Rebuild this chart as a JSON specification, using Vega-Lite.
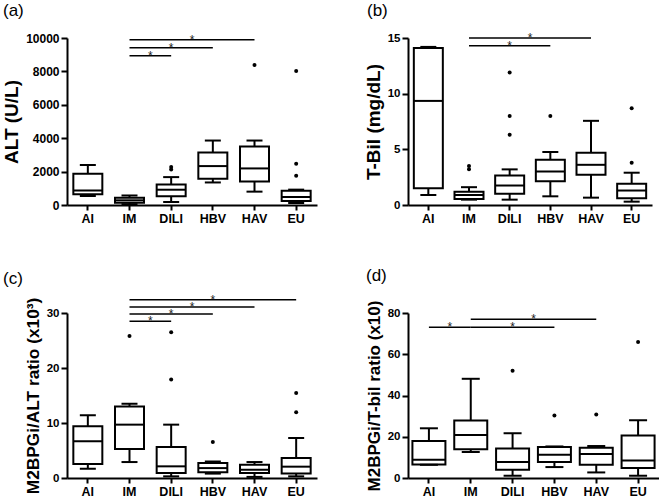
{
  "$schema": "https://vega.github.io/schema/vega-lite/v6.json",
  "padding": {"left": 2, "top": 2, "right": 0, "bottom": 0},
  "datasets": {
    "boxes": [
      {"panel": "a", "group": "AI", "min": 540, "q1": 650, "median": 870, "q3": 1870, "max": 2400},
      {"panel": "a", "group": "IM", "min": 50, "q1": 130, "median": 280, "q3": 430, "max": 570},
      {"panel": "a", "group": "DILI", "min": 180, "q1": 520, "median": 915, "q3": 1235, "max": 1670},
      {"panel": "a", "group": "HBV", "min": 1350, "q1": 1570, "median": 2330, "q3": 3150, "max": 3860},
      {"panel": "a", "group": "HAV", "min": 800, "q1": 1410, "median": 2190, "q3": 3510, "max": 3860},
      {"panel": "a", "group": "EU", "min": 120, "q1": 240, "median": 480, "q3": 860, "max": 920},
      {"panel": "b", "group": "AI", "min": 0.9, "q1": 1.5, "median": 9.35, "q3": 14.1, "max": 14.2},
      {"panel": "b", "group": "IM", "min": 0.48, "q1": 0.54, "median": 0.9, "q3": 1.2, "max": 1.6},
      {"panel": "b", "group": "DILI", "min": 0.48, "q1": 1.0, "median": 1.75, "q3": 2.65, "max": 3.2},
      {"panel": "b", "group": "HBV", "min": 0.78, "q1": 2.14, "median": 3.0, "q3": 4.07, "max": 4.76},
      {"panel": "b", "group": "HAV", "min": 0.66, "q1": 2.71, "median": 3.61, "q3": 4.7, "max": 7.56},
      {"panel": "b", "group": "EU", "min": 0.3, "q1": 0.6, "median": 1.3, "q3": 1.9, "max": 2.9},
      {"panel": "c", "group": "AI", "min": 1.7, "q1": 2.55, "median": 6.67, "q3": 9.4, "max": 11.4},
      {"panel": "c", "group": "IM", "min": 2.9, "q1": 5.27, "median": 9.7, "q3": 13.0, "max": 13.5},
      {"panel": "c", "group": "DILI", "min": 0.3, "q1": 0.9, "median": 2.12, "q3": 5.64, "max": 9.7},
      {"panel": "c", "group": "HBV", "min": 0.8, "q1": 1.03, "median": 1.8, "q3": 2.73, "max": 3.0},
      {"panel": "c", "group": "HAV", "min": 0.2, "q1": 0.9, "median": 1.5, "q3": 2.42, "max": 2.9},
      {"panel": "c", "group": "EU", "min": 0.3, "q1": 0.8, "median": 2.06, "q3": 3.64, "max": 7.27},
      {"panel": "d", "group": "AI", "min": 6.4, "q1": 6.5, "median": 8.9, "q3": 17.9, "max": 24.1},
      {"panel": "d", "group": "IM", "min": 12.6, "q1": 14.0, "median": 20.8, "q3": 27.9, "max": 48.1},
      {"panel": "d", "group": "DILI", "min": 1.1, "q1": 4.0, "median": 7.7, "q3": 14.3, "max": 21.7},
      {"panel": "d", "group": "HBV", "min": 5.3, "q1": 7.7, "median": 11.3, "q3": 15.0, "max": 15.3},
      {"panel": "d", "group": "HAV", "min": 2.7, "q1": 6.4, "median": 11.6, "q3": 14.7, "max": 15.5},
      {"panel": "d", "group": "EU", "min": 1.1, "q1": 4.8, "median": 8.5, "q3": 20.6, "max": 28.0}
    ],
    "outliers": [
      {"panel": "a", "group": "DILI", "value": 2130},
      {"panel": "a", "group": "DILI", "value": 2270},
      {"panel": "a", "group": "HAV", "value": 8390},
      {"panel": "a", "group": "EU", "value": 8020},
      {"panel": "a", "group": "EU", "value": 2470},
      {"panel": "a", "group": "EU", "value": 1750},
      {"panel": "b", "group": "IM", "value": 3.2},
      {"panel": "b", "group": "IM", "value": 3.5},
      {"panel": "b", "group": "DILI", "value": 11.9},
      {"panel": "b", "group": "DILI", "value": 8.0},
      {"panel": "b", "group": "DILI", "value": 6.3},
      {"panel": "b", "group": "HBV", "value": 8.0},
      {"panel": "b", "group": "EU", "value": 8.7},
      {"panel": "b", "group": "EU", "value": 3.8},
      {"panel": "c", "group": "IM", "value": 25.8},
      {"panel": "c", "group": "DILI", "value": 26.5},
      {"panel": "c", "group": "DILI", "value": 17.9},
      {"panel": "c", "group": "HBV", "value": 6.55},
      {"panel": "c", "group": "EU", "value": 15.45},
      {"panel": "c", "group": "EU", "value": 11.94},
      {"panel": "d", "group": "DILI", "value": 52.0},
      {"panel": "d", "group": "HBV", "value": 30.3},
      {"panel": "d", "group": "HAV", "value": 30.8},
      {"panel": "d", "group": "EU", "value": 65.9}
    ],
    "sig": [
      {"panel": "a", "group": "IM", "group2": "DILI", "y": 8940, "star": "IM", "edge": true},
      {"panel": "a", "group": "IM", "group2": "HBV", "y": 9420, "star": "DILI", "edge": false},
      {"panel": "a", "group": "IM", "group2": "HAV", "y": 9900, "star": "DILI", "edge": true},
      {"panel": "b", "group": "IM", "group2": "HBV", "y": 14.3, "star": "DILI", "edge": false},
      {"panel": "b", "group": "IM", "group2": "HAV", "y": 15.0, "star": "DILI", "edge": true},
      {"panel": "c", "group": "IM", "group2": "DILI", "y": 28.5, "star": "IM", "edge": true},
      {"panel": "c", "group": "IM", "group2": "HBV", "y": 29.8, "star": "DILI", "edge": false},
      {"panel": "c", "group": "IM", "group2": "HAV", "y": 31.1, "star": "DILI", "edge": true},
      {"panel": "c", "group": "IM", "group2": "EU", "y": 32.4, "star": "HBV", "edge": false},
      {"panel": "d", "group": "AI", "group2": "IM", "y": 73.1, "star": "AI", "edge": true},
      {"panel": "d", "group": "IM", "group2": "HBV", "y": 73.1, "star": "DILI", "edge": false},
      {"panel": "d", "group": "IM", "group2": "HAV", "y": 77.0, "star": "DILI", "edge": true}
    ]
  },
  "columns": 2,
  "spacing": {"row": 108, "column": 91},
  "bounds": "flush",
  "concat": [
    {
      "width": 250, "height": 167,
      "title": {"text": "(a)", "dx": -64, "dy": -8},
      "encoding": {"x": {"field": "group", "type": "nominal", "scale": {"domain": ["AI", "IM", "DILI", "HBV", "HAV", "EU"], "paddingInner": 0, "paddingOuter": 0}, "axis": {"title": null, "labelFontSize": 12.5, "labelFontWeight": "bold", "labelAngle": 0}}},
      "layer": [
        {"data": {"name": "boxes"}, "transform": [{"filter": "datum.panel == 'a'"}], "mark": {"type": "rule", "strokeWidth": 2, "color": "black"},
         "encoding": {"y": {"field": "min", "type": "quantitative", "scale": {"domain": [0, 10000], "nice": false}, "axis": {"values": [0, 2000, 4000, 6000, 8000, 10000], "format": "d", "title": "ALT (U/L)", "titleFontSize": 19, "labelFontSize": 12, "labelFontWeight": "bold"}}, "y2": {"field": "max"}}},
        {"data": {"name": "boxes"}, "transform": [{"filter": "datum.panel == 'a'"}], "mark": {"type": "bar", "width": 29, "fill": "white", "stroke": "black", "strokeWidth": 2},
         "encoding": {"y": {"field": "q1", "type": "quantitative", "scale": {"domain": [0, 10000], "nice": false}, "axis": {"values": [0, 2000, 4000, 6000, 8000, 10000], "format": "d", "title": "ALT (U/L)", "titleFontSize": 19, "labelFontSize": 12, "labelFontWeight": "bold"}}, "y2": {"field": "q3"}}},
        {"data": {"name": "boxes"}, "transform": [{"filter": "datum.panel == 'a'"}], "mark": {"type": "tick", "size": 29, "thickness": 2, "color": "black", "opacity": 1},
         "encoding": {"y": {"field": "median", "type": "quantitative", "scale": {"domain": [0, 10000], "nice": false}, "axis": {"values": [0, 2000, 4000, 6000, 8000, 10000], "format": "d", "title": "ALT (U/L)", "titleFontSize": 19, "labelFontSize": 12, "labelFontWeight": "bold"}}}},
        {"data": {"name": "boxes"}, "transform": [{"filter": "datum.panel == 'a'"}], "mark": {"type": "tick", "size": 16, "thickness": 2, "color": "black", "opacity": 1},
         "encoding": {"y": {"field": "min", "type": "quantitative", "scale": {"domain": [0, 10000], "nice": false}, "axis": {"values": [0, 2000, 4000, 6000, 8000, 10000], "format": "d", "title": "ALT (U/L)", "titleFontSize": 19, "labelFontSize": 12, "labelFontWeight": "bold"}}}},
        {"data": {"name": "boxes"}, "transform": [{"filter": "datum.panel == 'a'"}], "mark": {"type": "tick", "size": 16, "thickness": 2, "color": "black", "opacity": 1},
         "encoding": {"y": {"field": "max", "type": "quantitative", "scale": {"domain": [0, 10000], "nice": false}, "axis": {"values": [0, 2000, 4000, 6000, 8000, 10000], "format": "d", "title": "ALT (U/L)", "titleFontSize": 19, "labelFontSize": 12, "labelFontWeight": "bold"}}}},
        {"data": {"name": "outliers"}, "transform": [{"filter": "datum.panel == 'a'"}], "mark": {"type": "circle", "size": 16, "color": "black", "opacity": 1},
         "encoding": {"y": {"field": "value", "type": "quantitative", "scale": {"domain": [0, 10000], "nice": false}, "axis": {"values": [0, 2000, 4000, 6000, 8000, 10000], "format": "d", "title": "ALT (U/L)", "titleFontSize": 19, "labelFontSize": 12, "labelFontWeight": "bold"}}}},
        {"data": {"name": "sig"}, "transform": [{"filter": "datum.panel == 'a'"}], "mark": {"type": "rule", "strokeWidth": 1.5, "color": "black"},
         "encoding": {"x2": {"field": "group2"}, "y": {"field": "y", "type": "quantitative", "scale": {"domain": [0, 10000], "nice": false}, "axis": {"values": [0, 2000, 4000, 6000, 8000, 10000], "format": "d", "title": "ALT (U/L)", "titleFontSize": 19, "labelFontSize": 12, "labelFontWeight": "bold"}}}},
        {"data": {"name": "sig"}, "transform": [{"filter": "datum.panel == 'a' && !datum.edge"}], "mark": {"type": "text", "text": "*", "fontSize": 12, "color": "#222", "baseline": "alphabetic", "dy": 4},
         "encoding": {"x": {"field": "star", "type": "nominal", "scale": {"domain": ["AI", "IM", "DILI", "HBV", "HAV", "EU"], "paddingInner": 0, "paddingOuter": 0}, "axis": {"title": null, "labelFontSize": 12.5, "labelFontWeight": "bold", "labelAngle": 0}}, "y": {"field": "y", "type": "quantitative", "scale": {"domain": [0, 10000], "nice": false}, "axis": {"values": [0, 2000, 4000, 6000, 8000, 10000], "format": "d", "title": "ALT (U/L)", "titleFontSize": 19, "labelFontSize": 12, "labelFontWeight": "bold"}}}},
        {"data": {"name": "sig"}, "transform": [{"filter": "datum.panel == 'a' && datum.edge"}], "mark": {"type": "text", "text": "*", "fontSize": 12, "color": "#222", "baseline": "alphabetic", "dy": 4},
         "encoding": {"x": {"field": "star", "type": "nominal", "bandPosition": 1, "scale": {"domain": ["AI", "IM", "DILI", "HBV", "HAV", "EU"], "paddingInner": 0, "paddingOuter": 0}, "axis": {"title": null, "labelFontSize": 12.5, "labelFontWeight": "bold", "labelAngle": 0}}, "y": {"field": "y", "type": "quantitative", "scale": {"domain": [0, 10000], "nice": false}, "axis": {"values": [0, 2000, 4000, 6000, 8000, 10000], "format": "d", "title": "ALT (U/L)", "titleFontSize": 19, "labelFontSize": 12, "labelFontWeight": "bold"}}}}
      ]
    },
    {
      "width": 244, "height": 167,
      "title": {"text": "(b)", "dx": -41, "dy": -8},
      "encoding": {"x": {"field": "group", "type": "nominal", "scale": {"domain": ["AI", "IM", "DILI", "HBV", "HAV", "EU"], "paddingInner": 0, "paddingOuter": 0}, "axis": {"title": null, "labelFontSize": 12.5, "labelFontWeight": "bold", "labelAngle": 0}}},
      "layer": [
        {"data": {"name": "boxes"}, "transform": [{"filter": "datum.panel == 'b'"}], "mark": {"type": "rule", "strokeWidth": 2, "color": "black"},
         "encoding": {"y": {"field": "min", "type": "quantitative", "scale": {"domain": [0, 15], "nice": false}, "axis": {"values": [0, 5, 10, 15], "title": "T-Bil (mg/dL)", "titleFontSize": 19, "labelFontSize": 11.5, "labelFontWeight": "bold"}}, "y2": {"field": "max"}}},
        {"data": {"name": "boxes"}, "transform": [{"filter": "datum.panel == 'b'"}], "mark": {"type": "bar", "width": 29, "fill": "white", "stroke": "black", "strokeWidth": 2},
         "encoding": {"y": {"field": "q1", "type": "quantitative", "scale": {"domain": [0, 15], "nice": false}, "axis": {"values": [0, 5, 10, 15], "title": "T-Bil (mg/dL)", "titleFontSize": 19, "labelFontSize": 11.5, "labelFontWeight": "bold"}}, "y2": {"field": "q3"}}},
        {"data": {"name": "boxes"}, "transform": [{"filter": "datum.panel == 'b'"}], "mark": {"type": "tick", "size": 29, "thickness": 2, "color": "black", "opacity": 1},
         "encoding": {"y": {"field": "median", "type": "quantitative", "scale": {"domain": [0, 15], "nice": false}, "axis": {"values": [0, 5, 10, 15], "title": "T-Bil (mg/dL)", "titleFontSize": 19, "labelFontSize": 11.5, "labelFontWeight": "bold"}}}},
        {"data": {"name": "boxes"}, "transform": [{"filter": "datum.panel == 'b'"}], "mark": {"type": "tick", "size": 16, "thickness": 2, "color": "black", "opacity": 1},
         "encoding": {"y": {"field": "min", "type": "quantitative", "scale": {"domain": [0, 15], "nice": false}, "axis": {"values": [0, 5, 10, 15], "title": "T-Bil (mg/dL)", "titleFontSize": 19, "labelFontSize": 11.5, "labelFontWeight": "bold"}}}},
        {"data": {"name": "boxes"}, "transform": [{"filter": "datum.panel == 'b'"}], "mark": {"type": "tick", "size": 16, "thickness": 2, "color": "black", "opacity": 1},
         "encoding": {"y": {"field": "max", "type": "quantitative", "scale": {"domain": [0, 15], "nice": false}, "axis": {"values": [0, 5, 10, 15], "title": "T-Bil (mg/dL)", "titleFontSize": 19, "labelFontSize": 11.5, "labelFontWeight": "bold"}}}},
        {"data": {"name": "outliers"}, "transform": [{"filter": "datum.panel == 'b'"}], "mark": {"type": "circle", "size": 16, "color": "black", "opacity": 1},
         "encoding": {"y": {"field": "value", "type": "quantitative", "scale": {"domain": [0, 15], "nice": false}, "axis": {"values": [0, 5, 10, 15], "title": "T-Bil (mg/dL)", "titleFontSize": 19, "labelFontSize": 11.5, "labelFontWeight": "bold"}}}},
        {"data": {"name": "sig"}, "transform": [{"filter": "datum.panel == 'b'"}], "mark": {"type": "rule", "strokeWidth": 1.5, "color": "black"},
         "encoding": {"x2": {"field": "group2"}, "y": {"field": "y", "type": "quantitative", "scale": {"domain": [0, 15], "nice": false}, "axis": {"values": [0, 5, 10, 15], "title": "T-Bil (mg/dL)", "titleFontSize": 19, "labelFontSize": 11.5, "labelFontWeight": "bold"}}}},
        {"data": {"name": "sig"}, "transform": [{"filter": "datum.panel == 'b' && !datum.edge"}], "mark": {"type": "text", "text": "*", "fontSize": 12, "color": "#222", "baseline": "alphabetic", "dy": 4},
         "encoding": {"x": {"field": "star", "type": "nominal", "scale": {"domain": ["AI", "IM", "DILI", "HBV", "HAV", "EU"], "paddingInner": 0, "paddingOuter": 0}, "axis": {"title": null, "labelFontSize": 12.5, "labelFontWeight": "bold", "labelAngle": 0}}, "y": {"field": "y", "type": "quantitative", "scale": {"domain": [0, 15], "nice": false}, "axis": {"values": [0, 5, 10, 15], "title": "T-Bil (mg/dL)", "titleFontSize": 19, "labelFontSize": 11.5, "labelFontWeight": "bold"}}}},
        {"data": {"name": "sig"}, "transform": [{"filter": "datum.panel == 'b' && datum.edge"}], "mark": {"type": "text", "text": "*", "fontSize": 12, "color": "#222", "baseline": "alphabetic", "dy": 4},
         "encoding": {"x": {"field": "star", "type": "nominal", "bandPosition": 1, "scale": {"domain": ["AI", "IM", "DILI", "HBV", "HAV", "EU"], "paddingInner": 0, "paddingOuter": 0}, "axis": {"title": null, "labelFontSize": 12.5, "labelFontWeight": "bold", "labelAngle": 0}}, "y": {"field": "y", "type": "quantitative", "scale": {"domain": [0, 15], "nice": false}, "axis": {"values": [0, 5, 10, 15], "title": "T-Bil (mg/dL)", "titleFontSize": 19, "labelFontSize": 11.5, "labelFontWeight": "bold"}}}}
      ]
    },
    {
      "width": 250, "height": 165,
      "title": {"text": "(c)", "dx": -64, "dy": -2},
      "encoding": {"x": {"field": "group", "type": "nominal", "scale": {"domain": ["AI", "IM", "DILI", "HBV", "HAV", "EU"], "paddingInner": 0, "paddingOuter": 0}, "axis": {"title": null, "labelFontSize": 12.5, "labelFontWeight": "bold", "labelAngle": 0}}},
      "layer": [
        {"data": {"name": "boxes"}, "transform": [{"filter": "datum.panel == 'c'"}], "mark": {"type": "rule", "strokeWidth": 2, "color": "black"},
         "encoding": {"y": {"field": "min", "type": "quantitative", "scale": {"domain": [0, 30], "nice": false}, "axis": {"values": [0, 10, 20, 30], "title": "M2BPGi/ALT ratio (x10³)", "titleFontSize": 17.3, "labelFontSize": 11.5, "labelFontWeight": "bold"}}, "y2": {"field": "max"}}},
        {"data": {"name": "boxes"}, "transform": [{"filter": "datum.panel == 'c'"}], "mark": {"type": "bar", "width": 29, "fill": "white", "stroke": "black", "strokeWidth": 2},
         "encoding": {"y": {"field": "q1", "type": "quantitative", "scale": {"domain": [0, 30], "nice": false}, "axis": {"values": [0, 10, 20, 30], "title": "M2BPGi/ALT ratio (x10³)", "titleFontSize": 17.3, "labelFontSize": 11.5, "labelFontWeight": "bold"}}, "y2": {"field": "q3"}}},
        {"data": {"name": "boxes"}, "transform": [{"filter": "datum.panel == 'c'"}], "mark": {"type": "tick", "size": 29, "thickness": 2, "color": "black", "opacity": 1},
         "encoding": {"y": {"field": "median", "type": "quantitative", "scale": {"domain": [0, 30], "nice": false}, "axis": {"values": [0, 10, 20, 30], "title": "M2BPGi/ALT ratio (x10³)", "titleFontSize": 17.3, "labelFontSize": 11.5, "labelFontWeight": "bold"}}}},
        {"data": {"name": "boxes"}, "transform": [{"filter": "datum.panel == 'c'"}], "mark": {"type": "tick", "size": 16, "thickness": 2, "color": "black", "opacity": 1},
         "encoding": {"y": {"field": "min", "type": "quantitative", "scale": {"domain": [0, 30], "nice": false}, "axis": {"values": [0, 10, 20, 30], "title": "M2BPGi/ALT ratio (x10³)", "titleFontSize": 17.3, "labelFontSize": 11.5, "labelFontWeight": "bold"}}}},
        {"data": {"name": "boxes"}, "transform": [{"filter": "datum.panel == 'c'"}], "mark": {"type": "tick", "size": 16, "thickness": 2, "color": "black", "opacity": 1},
         "encoding": {"y": {"field": "max", "type": "quantitative", "scale": {"domain": [0, 30], "nice": false}, "axis": {"values": [0, 10, 20, 30], "title": "M2BPGi/ALT ratio (x10³)", "titleFontSize": 17.3, "labelFontSize": 11.5, "labelFontWeight": "bold"}}}},
        {"data": {"name": "outliers"}, "transform": [{"filter": "datum.panel == 'c'"}], "mark": {"type": "circle", "size": 16, "color": "black", "opacity": 1},
         "encoding": {"y": {"field": "value", "type": "quantitative", "scale": {"domain": [0, 30], "nice": false}, "axis": {"values": [0, 10, 20, 30], "title": "M2BPGi/ALT ratio (x10³)", "titleFontSize": 17.3, "labelFontSize": 11.5, "labelFontWeight": "bold"}}}},
        {"data": {"name": "sig"}, "transform": [{"filter": "datum.panel == 'c'"}], "mark": {"type": "rule", "strokeWidth": 1.5, "color": "black"},
         "encoding": {"x2": {"field": "group2"}, "y": {"field": "y", "type": "quantitative", "scale": {"domain": [0, 30], "nice": false}, "axis": {"values": [0, 10, 20, 30], "title": "M2BPGi/ALT ratio (x10³)", "titleFontSize": 17.3, "labelFontSize": 11.5, "labelFontWeight": "bold"}}}},
        {"data": {"name": "sig"}, "transform": [{"filter": "datum.panel == 'c' && !datum.edge"}], "mark": {"type": "text", "text": "*", "fontSize": 12, "color": "#222", "baseline": "alphabetic", "dy": 4},
         "encoding": {"x": {"field": "star", "type": "nominal", "scale": {"domain": ["AI", "IM", "DILI", "HBV", "HAV", "EU"], "paddingInner": 0, "paddingOuter": 0}, "axis": {"title": null, "labelFontSize": 12.5, "labelFontWeight": "bold", "labelAngle": 0}}, "y": {"field": "y", "type": "quantitative", "scale": {"domain": [0, 30], "nice": false}, "axis": {"values": [0, 10, 20, 30], "title": "M2BPGi/ALT ratio (x10³)", "titleFontSize": 17.3, "labelFontSize": 11.5, "labelFontWeight": "bold"}}}},
        {"data": {"name": "sig"}, "transform": [{"filter": "datum.panel == 'c' && datum.edge"}], "mark": {"type": "text", "text": "*", "fontSize": 12, "color": "#222", "baseline": "alphabetic", "dy": 4},
         "encoding": {"x": {"field": "star", "type": "nominal", "bandPosition": 1, "scale": {"domain": ["AI", "IM", "DILI", "HBV", "HAV", "EU"], "paddingInner": 0, "paddingOuter": 0}, "axis": {"title": null, "labelFontSize": 12.5, "labelFontWeight": "bold", "labelAngle": 0}}, "y": {"field": "y", "type": "quantitative", "scale": {"domain": [0, 30], "nice": false}, "axis": {"values": [0, 10, 20, 30], "title": "M2BPGi/ALT ratio (x10³)", "titleFontSize": 17.3, "labelFontSize": 11.5, "labelFontWeight": "bold"}}}}
      ]
    },
    {
      "width": 251, "height": 165,
      "title": {"text": "(d)", "dx": -42, "dy": -11},
      "encoding": {"x": {"field": "group", "type": "nominal", "scale": {"domain": ["AI", "IM", "DILI", "HBV", "HAV", "EU"], "paddingInner": 0, "paddingOuter": 0}, "axis": {"title": null, "labelFontSize": 12.5, "labelFontWeight": "bold", "labelAngle": 0}}},
      "layer": [
        {"data": {"name": "boxes"}, "transform": [{"filter": "datum.panel == 'd'"}], "mark": {"type": "rule", "strokeWidth": 2, "color": "black"},
         "encoding": {"y": {"field": "min", "type": "quantitative", "scale": {"domain": [0, 80], "nice": false}, "axis": {"values": [0, 20, 40, 60, 80], "title": "M2BPGi/T-bil ratio (x10)", "titleFontSize": 17, "labelFontSize": 11.5, "labelFontWeight": "bold"}}, "y2": {"field": "max"}}},
        {"data": {"name": "boxes"}, "transform": [{"filter": "datum.panel == 'd'"}], "mark": {"type": "bar", "width": 33, "fill": "white", "stroke": "black", "strokeWidth": 2},
         "encoding": {"y": {"field": "q1", "type": "quantitative", "scale": {"domain": [0, 80], "nice": false}, "axis": {"values": [0, 20, 40, 60, 80], "title": "M2BPGi/T-bil ratio (x10)", "titleFontSize": 17, "labelFontSize": 11.5, "labelFontWeight": "bold"}}, "y2": {"field": "q3"}}},
        {"data": {"name": "boxes"}, "transform": [{"filter": "datum.panel == 'd'"}], "mark": {"type": "tick", "size": 33, "thickness": 2, "color": "black", "opacity": 1},
         "encoding": {"y": {"field": "median", "type": "quantitative", "scale": {"domain": [0, 80], "nice": false}, "axis": {"values": [0, 20, 40, 60, 80], "title": "M2BPGi/T-bil ratio (x10)", "titleFontSize": 17, "labelFontSize": 11.5, "labelFontWeight": "bold"}}}},
        {"data": {"name": "boxes"}, "transform": [{"filter": "datum.panel == 'd'"}], "mark": {"type": "tick", "size": 18, "thickness": 2, "color": "black", "opacity": 1},
         "encoding": {"y": {"field": "min", "type": "quantitative", "scale": {"domain": [0, 80], "nice": false}, "axis": {"values": [0, 20, 40, 60, 80], "title": "M2BPGi/T-bil ratio (x10)", "titleFontSize": 17, "labelFontSize": 11.5, "labelFontWeight": "bold"}}}},
        {"data": {"name": "boxes"}, "transform": [{"filter": "datum.panel == 'd'"}], "mark": {"type": "tick", "size": 18, "thickness": 2, "color": "black", "opacity": 1},
         "encoding": {"y": {"field": "max", "type": "quantitative", "scale": {"domain": [0, 80], "nice": false}, "axis": {"values": [0, 20, 40, 60, 80], "title": "M2BPGi/T-bil ratio (x10)", "titleFontSize": 17, "labelFontSize": 11.5, "labelFontWeight": "bold"}}}},
        {"data": {"name": "outliers"}, "transform": [{"filter": "datum.panel == 'd'"}], "mark": {"type": "circle", "size": 16, "color": "black", "opacity": 1},
         "encoding": {"y": {"field": "value", "type": "quantitative", "scale": {"domain": [0, 80], "nice": false}, "axis": {"values": [0, 20, 40, 60, 80], "title": "M2BPGi/T-bil ratio (x10)", "titleFontSize": 17, "labelFontSize": 11.5, "labelFontWeight": "bold"}}}},
        {"data": {"name": "sig"}, "transform": [{"filter": "datum.panel == 'd'"}], "mark": {"type": "rule", "strokeWidth": 1.5, "color": "black"},
         "encoding": {"x2": {"field": "group2"}, "y": {"field": "y", "type": "quantitative", "scale": {"domain": [0, 80], "nice": false}, "axis": {"values": [0, 20, 40, 60, 80], "title": "M2BPGi/T-bil ratio (x10)", "titleFontSize": 17, "labelFontSize": 11.5, "labelFontWeight": "bold"}}}},
        {"data": {"name": "sig"}, "transform": [{"filter": "datum.panel == 'd' && !datum.edge"}], "mark": {"type": "text", "text": "*", "fontSize": 12, "color": "#222", "baseline": "alphabetic", "dy": 4},
         "encoding": {"x": {"field": "star", "type": "nominal", "scale": {"domain": ["AI", "IM", "DILI", "HBV", "HAV", "EU"], "paddingInner": 0, "paddingOuter": 0}, "axis": {"title": null, "labelFontSize": 12.5, "labelFontWeight": "bold", "labelAngle": 0}}, "y": {"field": "y", "type": "quantitative", "scale": {"domain": [0, 80], "nice": false}, "axis": {"values": [0, 20, 40, 60, 80], "title": "M2BPGi/T-bil ratio (x10)", "titleFontSize": 17, "labelFontSize": 11.5, "labelFontWeight": "bold"}}}},
        {"data": {"name": "sig"}, "transform": [{"filter": "datum.panel == 'd' && datum.edge"}], "mark": {"type": "text", "text": "*", "fontSize": 12, "color": "#222", "baseline": "alphabetic", "dy": 4},
         "encoding": {"x": {"field": "star", "type": "nominal", "bandPosition": 1, "scale": {"domain": ["AI", "IM", "DILI", "HBV", "HAV", "EU"], "paddingInner": 0, "paddingOuter": 0}, "axis": {"title": null, "labelFontSize": 12.5, "labelFontWeight": "bold", "labelAngle": 0}}, "y": {"field": "y", "type": "quantitative", "scale": {"domain": [0, 80], "nice": false}, "axis": {"values": [0, 20, 40, 60, 80], "title": "M2BPGi/T-bil ratio (x10)", "titleFontSize": 17, "labelFontSize": 11.5, "labelFontWeight": "bold"}}}}
      ]
    }
  ],
  "config": {
    "view": {"stroke": null},
    "font": "Liberation Sans",
    "axis": {"domainColor": "black", "domainWidth": 2, "tickColor": "black", "tickWidth": 2, "tickSize": 6, "labelColor": "black", "labelFont": "Liberation Sans", "labelFontWeight": "bold", "titleColor": "black", "titleFont": "Liberation Sans", "titleFontWeight": "bold", "grid": false},
    "axisX": {"tickSize": 5, "labelPadding": 2},
    "axisY": {"labelPadding": 2, "titlePadding": 4},
    "title": {"font": "Liberation Sans", "fontSize": 17, "fontWeight": "normal", "color": "black", "anchor": "start", "frame": "group"}
  }
}
